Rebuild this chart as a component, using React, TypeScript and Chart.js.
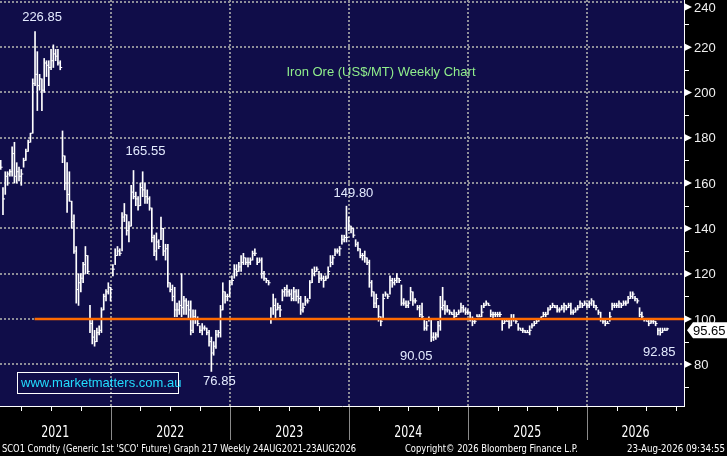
import React, { useEffect, useRef } from 'react';
import { Chart, registerables } from 'chart.js';

Chart.register(...registerables);

// ---------- DATA (weekly bars, index 0 = first week on the chart) ----------
const HIGHS = [
  170, 158, 165, 165, 166, 176, 178, 169, 167, 166, 171, 175, 179, 182, 206, 226.85, 218, 208, 206, 215,
  214, 214, 219, 221, 219, 219, 214, 183, 172, 169, 165, 152, 146, 132, 120, 120, 125, 132, 128, 106,
  100, 95, 96, 97, 105, 111, 113, 116, 114, 124, 131, 132, 131, 147, 151, 146, 143, 159, 165.55, 156,
  154, 160, 165, 160, 157, 154, 149, 137, 138, 135, 145, 140, 133, 133, 116, 115, 114, 107, 108, 120,
  110, 109, 108, 108, 104, 104, 101, 97, 98, 97, 96, 95, 92, 90, 95, 95, 106, 116, 112, 111,
  117, 119, 124, 124, 125, 128, 129, 127, 127, 127, 130, 131, 127, 127, 127, 121, 118, 117, 105, 111,
  109, 107, 106, 113, 114, 115, 113, 113, 114, 113, 113, 110, 107, 110, 109, 117, 122, 123, 123, 121,
  120, 119, 119, 123, 128, 128, 131, 131, 132, 137, 137, 149.8, 145, 141, 140, 135, 134, 131, 129, 130,
  127, 126, 117, 112, 111, 106, 101, 111, 112, 111, 119, 118, 118, 120, 118, 115, 109, 108, 108, 114,
  112, 109, 106, 106, 107, 100, 99, 101, 100, 94, 94, 99, 110, 114, 108, 106, 104, 103, 104, 103,
  104, 107, 106, 105, 104, 103, 101, 100, 102, 102, 106, 107, 108, 107, 104, 103, 103, 103, 103, 100,
  100, 100, 100, 102, 102, 100, 98, 96, 96, 95, 95, 97, 98, 99, 100, 100, 101, 103, 103, 105,
  106, 107, 106, 106, 105, 106, 107, 106, 107, 107, 104, 105, 106, 108, 107, 108, 107, 108, 109, 108,
  106, 104, 103, 100, 100, 99, 103, 107, 107, 107, 108, 107, 108, 108, 110, 112, 112, 110, 109, 105,
  103, 100, 100, 100, 100, 100, 99, 96, 96, 96, 96, 96,
];
const LOWS = [
  166, 146, 155, 159, 163, 163, 160, 160, 161, 159, 167, 170, 174, 178, 182, 203, 192, 201, 192, 200,
  207, 203, 210, 211, 214, 212, 210, 169, 157, 147, 152, 140, 129, 107, 106, 112, 116, 120, 120, 94,
  89, 88, 90, 93, 94, 104, 108, 111, 108, 119, 124, 128, 128, 130, 143, 137, 134, 141, 153, 150,
  148, 150, 154, 151, 151, 148, 134, 128, 126, 131, 135, 128, 126, 114, 112, 108, 101, 101, 102, 101,
  102, 102, 100, 93, 94, 98, 97, 94, 93, 95, 93, 88, 76.85, 84, 87, 92, 92, 104, 107, 108,
  110, 115, 118, 119, 121, 121, 124, 124, 123, 124, 126, 128, 124, 125, 118, 117, 116, 115, 98, 102,
  100, 104, 101, 108, 110, 110, 110, 108, 108, 108, 107, 102, 103, 106, 107, 109, 116, 119, 121, 116,
  117, 114, 117, 118, 123, 124, 128, 129, 128, 133, 134, 134, 139, 138, 136, 132, 130, 127, 126, 125,
  124, 114, 110, 105, 105, 99, 97, 100, 110, 109, 111, 114, 115, 116, 116, 106, 106, 105, 105, 108,
  106, 107, 104, 101, 100, 95, 95, 99, 90.05, 90.5, 91, 92, 95, 104, 102, 103, 102, 102, 100, 101,
  102, 103, 103, 102, 102, 99, 97, 98, 101, 101, 101, 105, 106, 106, 101, 100, 101, 101, 101, 95,
  98, 99, 96, 97, 99, 98, 95, 95, 94, 94, 94, 93, 96, 97, 98, 99, 100, 101, 101, 102,
  104, 105, 105, 103, 103, 104, 103, 104, 105, 102, 102, 103, 104, 105, 105, 106, 105, 105, 106, 105,
  104, 102, 99, 98, 97, 98, 99, 104, 105, 105, 105, 105, 106, 106, 107, 109, 109, 108, 107, 101,
  100, 99, 99, 97, 98, 98, 97, 93, 92.85, 94, 95, 95,
];
const CLOSES = [
  167, 153, 163, 164, 165, 173, 163, 165, 163, 164, 170, 174, 178, 182, 204, 208, 203, 206, 201, 213,
  212, 211, 214, 217, 216, 213, 211, 172, 160, 155, 152, 143, 130, 113, 116, 118, 124, 128, 121, 98,
  92, 90, 94, 95, 104, 110, 112, 114, 113, 122, 128, 130, 129, 145, 146, 139, 141, 156, 154, 153,
  150, 158, 157, 154, 153, 149, 136, 130, 134, 132, 140, 130, 131, 116, 113, 110, 104, 104, 106, 105,
  108, 106, 104, 95, 101, 100, 98, 95, 96, 96, 94, 90, 85, 88, 93, 94, 104, 112, 110, 110,
  116, 117, 122, 121, 123, 125, 127, 125, 125, 126, 129, 129, 125, 126, 120, 118, 117, 116, 100, 106,
  104, 105, 104, 112, 113, 112, 111, 109, 112, 110, 109, 104, 105, 108, 108, 116, 120, 121, 122, 118,
  118, 117, 118, 121, 125, 127, 130, 130, 131, 135, 136, 136, 141, 140, 137, 133, 131, 128, 128, 127,
  125, 116, 112, 107, 109, 101, 99, 109, 111, 110, 117, 116, 117, 118, 117, 107, 107, 106, 107, 112,
  108, 108, 105, 102, 101, 96, 97, 100, 92, 92, 93, 97, 105, 106, 104, 104, 103, 102, 101, 102,
  103, 105, 104, 103, 103, 100, 99, 99, 101, 101, 103, 106, 107, 106, 102, 102, 102, 102, 102, 98,
  99, 99, 97, 100, 100, 99, 96, 95, 95, 94, 94, 95, 97, 98, 99, 100, 101, 102, 102, 104,
  105, 106, 105, 104, 104, 105, 106, 105, 106, 103, 103, 104, 105, 107, 106, 107, 106, 107, 108, 106,
  105, 103, 100, 99, 98, 98, 101, 106, 106, 106, 107, 106, 107, 107, 109, 110, 111, 109, 108, 102,
  101, 100, 99, 98, 99, 99, 98, 95, 94, 95, 95, 95.65,
];

// axis ranges (week index / US$ per tonne)
const X_MIN = -0.3;
const X_MAX = 298.4;
const Y_MIN = 61.6;
const Y_MAX = 240.8;

const PRICE_TICKS = [80, 100, 120, 140, 160, 180, 200, 220, 240];
const PRICE_MINOR = [70, 90, 110, 130, 150, 170, 190, 210, 230];
const YEAR_LABELS = ['2021', '2022', '2023', '2024', '2025', '2026'];
const YEAR_STARTS = [48, 100, 152, 204, 256]; // week index of 1 Jan 2022..2026
const QUARTER_TICKS = [9, 22, 35, 61, 74, 87, 113, 126, 139, 165, 178, 191, 217, 230, 243, 269, 282, 295];

const SUPPORT_LEVEL = 100;
const SUPPORT_FROM_WEEK = 14.8;

const ANNOTATED = [
  { week: 15, kind: 'high' },
  { week: 58, kind: 'high' },
  { week: 151, kind: 'high' },
  { week: 92, kind: 'low' },
  { week: 188, kind: 'low' },
  { week: 288, kind: 'low' },
];

const TITLE = 'Iron Ore (US$/MT) Weekly Chart';
const WATERMARK = 'www.marketmatters.com.au';
const FOOTER_LEFT = "SCO1 Comdty (Generic 1st 'SCO' Future) Graph 217 Weekly 24AUG2021-23AUG2026";
const FOOTER_MID = 'Copyright\u00A9 2026 Bloomberg Finance L.P.';
const FOOTER_RIGHT = '23-Aug-2026 09:34:55';

// ---------- STYLE ----------
const NAVY = '#100d49';
const GRID = '#8e8e98';
const LABEL_OFFSETS = [[7, -14], [12, -19], [7, -13], [8, 10], [-15, 15], [-1, 17]];
const SANS = '"Liberation Sans", Arial, sans-serif';
const NARROW = '"DejaVu Sans Condensed", "Liberation Sans Narrow", "Liberation Sans", sans-serif';

const bbgPlugin = {
  id: 'bbg',
  beforeDraw(chart: any) {
    const { ctx, chartArea: a, width, height } = chart;
    const xs = chart.scales.x;
    const ys = chart.scales.y;
    ctx.save();
    ctx.fillStyle = '#000';
    ctx.fillRect(0, 0, width, height);
    ctx.fillStyle = NAVY;
    ctx.fillRect(a.left, a.top, a.right - a.left, a.bottom - a.top);
    ctx.strokeStyle = GRID;
    ctx.lineWidth = 2;
    ctx.setLineDash([2, 2]);
    for (const v of PRICE_TICKS) {
      const y = Math.round(ys.getPixelForValue(v));
      if (y < a.top + 1 || y > a.bottom) continue;
      ctx.beginPath();
      ctx.moveTo(a.left, y);
      ctx.lineTo(a.right, y);
      ctx.stroke();
    }
    for (const w of YEAR_STARTS) {
      const x = Math.round(xs.getPixelForValue(w));
      ctx.beginPath();
      ctx.moveTo(x, a.top);
      ctx.lineTo(x, a.bottom);
      ctx.stroke();
    }
    ctx.restore();
  },
  afterDraw(chart: any) {
    const { ctx, chartArea: a, width } = chart;
    const xs = chart.scales.x;
    const ys = chart.scales.y;
    ctx.save();
    ctx.setLineDash([]);

    // axis lines
    ctx.strokeStyle = '#ffffff';
    ctx.lineWidth = 1;
    ctx.beginPath();
    ctx.moveTo(a.right + 0.5, a.top);
    ctx.lineTo(a.right + 0.5, a.bottom + 1);
    ctx.moveTo(a.left, a.bottom + 0.5);
    ctx.lineTo(a.right + 1, a.bottom + 0.5);
    ctx.stroke();

    // quarter ticks below the axis
    ctx.beginPath();
    for (const w of QUARTER_TICKS) {
      const x = Math.round(xs.getPixelForValue(w)) + 0.5;
      ctx.moveTo(x, a.bottom);
      ctx.lineTo(x, a.bottom + 5);
    }
    ctx.stroke();

    // year dividers
    ctx.strokeStyle = '#8a8a8a';
    ctx.beginPath();
    for (const w of YEAR_STARTS) {
      const x = Math.round(xs.getPixelForValue(w)) + 0.5;
      ctx.moveTo(x, a.bottom + 1);
      ctx.lineTo(x, a.bottom + 34);
    }
    ctx.stroke();

    // year labels
    const bounds = [X_MIN, ...YEAR_STARTS, X_MAX];
    ctx.fillStyle = '#ffffff';
    ctx.font = `16px ${NARROW}`;
    ctx.textAlign = 'center';
    ctx.textBaseline = 'middle';
    YEAR_LABELS.forEach((lab, k) => {
      const x = xs.getPixelForValue((bounds[k] + bounds[k + 1]) / 2);
      ctx.fillText(lab, x, a.bottom + 27, 28);
    });

    // footer
    ctx.font = `11px ${NARROW}`;
    ctx.textAlign = 'left';
    ctx.fillText(FOOTER_LEFT, 2, 449, 354);
    ctx.fillText(FOOTER_MID, 405, 449, 173);
    ctx.textAlign = 'right';
    ctx.fillText(FOOTER_RIGHT, width - 2, 449, 98);

    // right axis: minor ticks, triangles and labels
    ctx.strokeStyle = '#ffffff';
    ctx.beginPath();
    for (const v of PRICE_MINOR) {
      const y = Math.round(ys.getPixelForValue(v)) + 0.5;
      ctx.moveTo(a.right, y);
      ctx.lineTo(a.right + 5, y);
    }
    ctx.stroke();
    ctx.font = `13px ${SANS}`;
    ctx.textAlign = 'left';
    ctx.textBaseline = 'middle';
    for (const v of PRICE_TICKS) {
      const y = Math.max(7, ys.getPixelForValue(v));
      ctx.fillStyle = '#ffffff';
      ctx.beginPath();
      ctx.moveTo(a.right + 1, y - 3.5);
      ctx.lineTo(a.right + 8, y);
      ctx.lineTo(a.right + 1, y + 3.5);
      ctx.closePath();
      ctx.fill();
      ctx.fillStyle = '#f0f0f0';
      ctx.fillText(String(v), a.right + 10, y + 1);
    }

    // last price box
    const last = CLOSES[CLOSES.length - 1];
    const yl = ys.getPixelForValue(last) + 1.5;
    ctx.fillStyle = '#ffffff';
    ctx.beginPath();
    ctx.moveTo(a.right + 3, yl);
    ctx.lineTo(a.right + 9, yl - 8);
    ctx.lineTo(width, yl - 8);
    ctx.lineTo(width, yl + 8);
    ctx.lineTo(a.right + 9, yl + 8);
    ctx.closePath();
    ctx.fill();
    ctx.fillStyle = '#000000';
    ctx.font = `13px ${SANS}`;
    ctx.fillText(last.toFixed(2), a.right + 9, yl + 1);

    // annotations on highs / lows
    ctx.font = `13px ${SANS}`;
    ctx.textAlign = 'center';
    ctx.fillStyle = '#e4ebff';
    ANNOTATED.forEach((an, k) => {
      const v = an.kind === 'high' ? HIGHS[an.week] : LOWS[an.week];
      const x = xs.getPixelForValue(an.week) + LABEL_OFFSETS[k][0];
      const y = ys.getPixelForValue(v) + LABEL_OFFSETS[k][1];
      ctx.fillText(v.toFixed(2), x, y);
    });

    // title
    ctx.fillStyle = '#90ee8c';
    ctx.fillText(TITLE, a.left + 381, a.top + 72);

    // watermark
    ctx.strokeStyle = '#ffffff';
    ctx.lineWidth = 1;
    ctx.strokeRect(a.left + 17.5, a.bottom - 33.5, 161, 21);
    ctx.fillStyle = '#22dcff';
    ctx.textAlign = 'left';
    ctx.fillText(WATERMARK, a.left + 21, a.bottom - 22.5);

    ctx.restore();
  },
};

export default function App() {
  const ref = useRef<HTMLCanvasElement>(null);
  useEffect(() => {
    document.body.style.margin = '0';
    document.body.style.background = '#000';
    const weeks = CLOSES.map((_, i) => i);
    const chart = new Chart(ref.current as HTMLCanvasElement, {
      type: 'bar',
      data: {
        datasets: [
          {
            type: 'line',
            data: [
              { x: SUPPORT_FROM_WEEK, y: SUPPORT_LEVEL },
              { x: X_MAX, y: SUPPORT_LEVEL },
            ],
            borderColor: '#ff6a00',
            borderWidth: 2.5,
            pointRadius: 0,
            order: 0,
          } as any,
          {
            type: 'scatter',
            data: weeks.map((i) => ({ x: i, y: CLOSES[i] })),
            pointStyle: 'dash',
            pointRadius: 2,
            pointHoverRadius: 2,
            borderColor: '#ffffff',
            backgroundColor: '#ffffff',
            borderWidth: 1,
            order: 1,
          } as any,
          {
            type: 'bar',
            data: weeks.map((i) => ({ x: i, y: [LOWS[i], HIGHS[i]] })),
            backgroundColor: '#ffffff',
            borderWidth: 0,
            barThickness: 1,
            grouped: false,
            order: 2,
          } as any,
        ],
      },
      options: {
        responsive: false,
        animation: false,
        events: [],
        layout: { padding: 0, autoPadding: false },
        plugins: { legend: { display: false }, tooltip: { enabled: false }, title: { display: false } },
        scales: {
          x: {
            type: 'linear',
            offset: false,
            min: X_MIN,
            max: X_MAX,
            grid: { display: false, offset: false },
            border: { display: false },
            ticks: { display: false },
            afterFit: (s: any) => {
              s.height = 50;
              s.paddingLeft = 0;
              s.paddingRight = 0;
            },
          },
          y: {
            type: 'linear',
            position: 'right',
            min: Y_MIN,
            max: Y_MAX,
            grid: { display: false },
            border: { display: false },
            ticks: { display: false },
            afterFit: (s: any) => {
              s.width = 43;
              s.paddingTop = 0;
              s.paddingBottom = 0;
            },
          },
        },
      } as any,
      plugins: [bbgPlugin],
    });
    return () => chart.destroy();
  }, []);
  return (
    <div style={{ width: 727, height: 456, background: '#000' }}>
      <canvas ref={ref} width={727} height={456} style={{ display: 'block', width: 727, height: 456 }} />
    </div>
  );
}
